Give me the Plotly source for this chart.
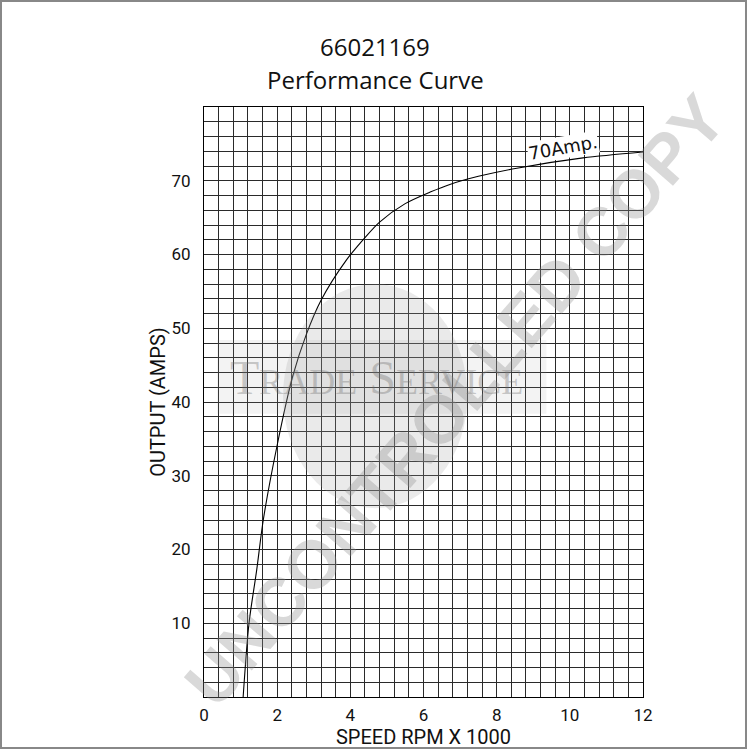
import plotly.graph_objects as go

# ---- data ----
speed_krpm = [1.07, 1.23, 1.44, 1.62, 1.99, 2.42, 2.8, 3.2, 3.9, 4.4, 4.8, 5.5, 6.2, 6.72, 7.5, 8.55, 10.36, 12.0]
output_amps = [0.0, 10.0, 17.2, 24.0, 33.9, 43.4, 49.2, 53.8, 59.3, 62.3, 64.4, 66.9, 68.5, 69.5, 70.6, 71.7, 73.1, 73.9]

x_grid_vals = [round(i * 0.4, 1) for i in range(31)]
x_label_vals = [0, 2, 4, 6, 8, 10, 12]
y_grid_vals = list(range(0, 81, 2))
y_label_vals = [10, 20, 30, 40, 50, 60, 70]

title_lines = ["66021169", "Performance Curve"]
curve_label = "70Amp."
x_title = "SPEED RPM X 1000"
y_title = "OUTPUT (AMPS)"

x_ticktext = [str(int(round(v))) if (abs(v - round(v)) < 1e-9 and int(round(v)) in x_label_vals) else "" for v in x_grid_vals]
y_ticktext = [str(v) if v in y_label_vals else "" for v in y_grid_vals]

cond = "Roboto, Liberation Sans Narrow, sans-serif"
tick_font = dict(family=cond, size=17, color="#111")
title_font = dict(family=cond, size=20, color="#111")
grid_col = "#2a2a2a"

fig = go.Figure()
fig.add_trace(go.Scatter(
    x=speed_krpm, y=output_amps, mode="lines",
    line=dict(color="black", width=1.1, shape="spline", smoothing=0.8),
    hoverinfo="skip", showlegend=False,
))

# watermark: light disc + band, and text
fig.add_shape(type="circle", xref="paper", yref="paper",
              x0=0.18, x1=0.60, y0=0.32, y1=0.70,
              fillcolor="rgba(160,160,160,0.22)", line_width=0, layer="above")
fig.add_shape(type="rect", xref="paper", yref="paper",
              x0=0.03, x1=0.78, y0=0.48, y1=0.605,
              fillcolor="rgba(160,160,160,0.12)", line_width=0, layer="above")
fig.add_annotation(xref="paper", yref="paper", x=0.394, y=0.542,
                   text="T<span style='font-size:36px'>RADE</span> S<span style='font-size:36px'>ERVICE</span>",
                   showarrow=False, font=dict(family="Liberation Serif, serif", size=48, color="rgba(110,110,110,0.35)"))
fig.add_annotation(xref="paper", yref="paper", x=0.572, y=0.503,
                   text="<b>UNCONTROLLED COPY</b>", textangle=-49, showarrow=False,
                   font=dict(family="Liberation Sans, Arial, sans-serif", size=68, color="rgba(140,140,140,0.33)"))

# curve label
fig.add_annotation(x=9.81, y=74.5, text=curve_label, showarrow=False, textangle=-10,
                   bgcolor="white", borderpad=0,
                   font=dict(family="DejaVu Sans, sans-serif", size=18, color="#111"))

# title
fig.add_annotation(xref="paper", yref="paper", x=0.39, y=1.1017, xanchor="center", yanchor="middle",
                   text=title_lines[0], showarrow=False,
                   font=dict(family="Open Sans, sans-serif", size=24, color="#111"))
fig.add_annotation(xref="paper", yref="paper", x=0.39, y=1.0458, xanchor="center", yanchor="middle",
                   text=title_lines[1], showarrow=False,
                   font=dict(family="Open Sans, sans-serif", size=24, color="#111"))

# outer frame
fig.add_shape(type="rect", xref="paper", yref="paper",
              x0=-0.4624, x1=1.2346, y0=-0.0864, y1=1.1797,
              line=dict(color="#888", width=2), fillcolor="rgba(0,0,0,0)")

fig.update_xaxes(range=[0, 12], tickmode="array", tickvals=x_grid_vals, ticktext=x_ticktext,
                 showgrid=True, gridcolor=grid_col, gridwidth=1, zeroline=False,
                 showline=True, linecolor="black", linewidth=1, mirror=True, ticks="",
                 tickfont=tick_font, ticklabelstandoff=3, automargin=False,
                 title=dict(text=x_title, font=title_font, standoff=3))
fig.update_yaxes(range=[0, 80], tickmode="array", tickvals=y_grid_vals, ticktext=y_ticktext,
                 showgrid=True, gridcolor=grid_col, gridwidth=1, zeroline=False,
                 showline=True, linecolor="black", linewidth=1, mirror=True, ticks="",
                 tickfont=tick_font, ticklabelstandoff=9, automargin=False,
                 title=dict(text=y_title, font=title_font, standoff=0))

fig.update_layout(width=750, height=750, margin=dict(l=204, r=107, t=107, b=53),
                  paper_bgcolor="white", plot_bgcolor="white", showlegend=False)

fig.write_html("out.html", config={"displayModeBar": False},
               post_script="document.body.style.margin='0';document.body.style.overflow='hidden';")
